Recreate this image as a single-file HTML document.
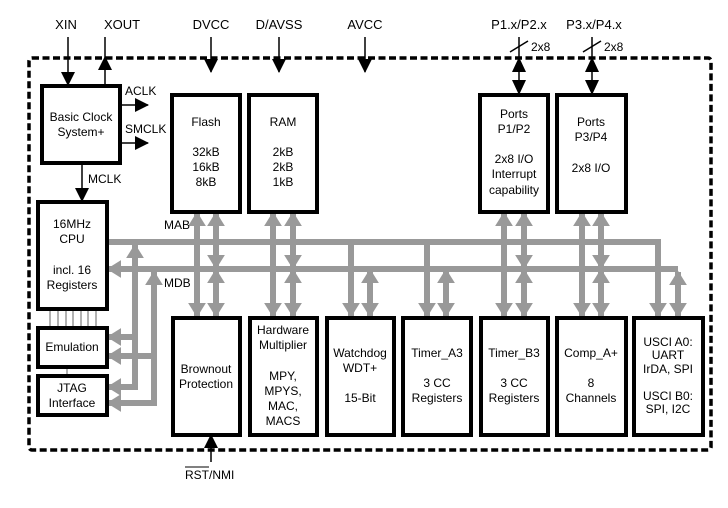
<!DOCTYPE html>
<html><head><meta charset="utf-8"><style>
html,body{margin:0;padding:0;background:#fff;}
svg{display:block;}
text{font-family:"Liberation Sans",Arial,sans-serif;fill:#000;}
</style></head><body>
<svg width="728" height="508" viewBox="0 0 728 508" xmlns="http://www.w3.org/2000/svg">
<defs>
<marker id="g" markerWidth="3" markerHeight="3" refX="2.2" refY="1.5" orient="auto" markerUnits="strokeWidth">
<path d="M0,0 L2.4,1.5 L0,3 z" fill="#999"/></marker>
<marker id="b" markerWidth="14" markerHeight="14" refX="13" refY="7" orient="auto" markerUnits="userSpaceOnUse">
<path d="M0,0 L14,7 L0,14 z" fill="#000"/></marker>
</defs>

<rect x="29" y="58" width="682" height="392" rx="3" fill="none" stroke="#000" stroke-width="3.5" stroke-dasharray="7,3.5"/>

<g stroke="#999" stroke-width="6" fill="none">
<polyline points="107,242 658,242 658,316" marker-end="url(#g)"/>
<line x1="678" y1="269" x2="108" y2="269" marker-end="url(#g)"/>
<line x1="135" y1="387" x2="135" y2="245" marker-end="url(#g)"/>
<line x1="154" y1="403" x2="154" y2="272" marker-end="url(#g)"/>
<line x1="135" y1="337" x2="108" y2="337" marker-end="url(#g)"/>
<line x1="135" y1="387" x2="108" y2="387" marker-end="url(#g)"/>
<line x1="154" y1="356" x2="108" y2="356" marker-end="url(#g)"/>
<line x1="154" y1="403" x2="108" y2="403" marker-end="url(#g)"/>
<line x1="132" y1="387" x2="138" y2="387"/>
<line x1="151" y1="403" x2="157" y2="403"/>
<line x1="197" y1="242" x2="197" y2="213" marker-end="url(#g)"/>
<line x1="273" y1="242" x2="273" y2="213" marker-end="url(#g)"/>
<line x1="504" y1="242" x2="504" y2="213" marker-end="url(#g)"/>
<line x1="582" y1="242" x2="582" y2="213" marker-end="url(#g)"/>
<line x1="216" y1="240" x2="216" y2="213" marker-end="url(#g)"/>
<line x1="216" y1="240" x2="216" y2="268" marker-end="url(#g)"/>
<line x1="293" y1="240" x2="293" y2="213" marker-end="url(#g)"/>
<line x1="293" y1="240" x2="293" y2="268" marker-end="url(#g)"/>
<line x1="524" y1="240" x2="524" y2="213" marker-end="url(#g)"/>
<line x1="524" y1="240" x2="524" y2="268" marker-end="url(#g)"/>
<line x1="601" y1="240" x2="601" y2="213" marker-end="url(#g)"/>
<line x1="601" y1="240" x2="601" y2="268" marker-end="url(#g)"/>
<line x1="197" y1="242" x2="197" y2="316" marker-end="url(#g)"/>
<line x1="273" y1="242" x2="273" y2="316" marker-end="url(#g)"/>
<line x1="351" y1="242" x2="351" y2="316" marker-end="url(#g)"/>
<line x1="427" y1="242" x2="427" y2="316" marker-end="url(#g)"/>
<line x1="504" y1="242" x2="504" y2="316" marker-end="url(#g)"/>
<line x1="582" y1="242" x2="582" y2="316" marker-end="url(#g)"/>
<line x1="216" y1="295" x2="216" y2="270" marker-end="url(#g)"/><line x1="216" y1="295" x2="216" y2="316" marker-end="url(#g)"/>
<line x1="293" y1="295" x2="293" y2="270" marker-end="url(#g)"/><line x1="293" y1="295" x2="293" y2="316" marker-end="url(#g)"/>
<line x1="370" y1="295" x2="370" y2="270" marker-end="url(#g)"/><line x1="370" y1="295" x2="370" y2="316" marker-end="url(#g)"/>
<line x1="446" y1="295" x2="446" y2="270" marker-end="url(#g)"/><line x1="446" y1="295" x2="446" y2="316" marker-end="url(#g)"/>
<line x1="524" y1="295" x2="524" y2="270" marker-end="url(#g)"/><line x1="524" y1="295" x2="524" y2="316" marker-end="url(#g)"/>
<line x1="601" y1="295" x2="601" y2="270" marker-end="url(#g)"/><line x1="601" y1="295" x2="601" y2="316" marker-end="url(#g)"/>
<line x1="678" y1="295" x2="678" y2="272" marker-end="url(#g)"/><line x1="678" y1="295" x2="678" y2="316" marker-end="url(#g)"/>
</g>
<g stroke="#999" stroke-width="1.5">
<line x1="50" y1="309" x2="50" y2="327"/><line x1="58" y1="309" x2="58" y2="327"/><line x1="66" y1="309" x2="66" y2="327"/>
<line x1="73" y1="309" x2="73" y2="327"/><line x1="81" y1="309" x2="81" y2="327"/><line x1="88" y1="309" x2="88" y2="327"/>
<line x1="96" y1="309" x2="96" y2="327"/><line x1="67" y1="367" x2="67" y2="375"/>
</g>

<g fill="#fff" stroke="#000" stroke-width="4">
<rect x="42" y="86" width="78" height="77"/>
<rect x="172" y="95" width="68" height="117"/>
<rect x="249" y="95" width="68" height="117"/>
<rect x="480" y="95" width="68" height="117"/>
<rect x="557" y="95" width="69" height="117"/>
<rect x="38" y="202" width="69" height="107"/>
<rect x="38" y="328" width="69" height="39"/>
<rect x="38" y="376" width="69" height="39"/>
<rect x="173" y="318" width="67" height="117"/>
<rect x="250" y="318" width="67" height="117"/>
<rect x="327" y="318" width="67" height="117"/>
<rect x="403" y="318" width="68" height="117"/>
<rect x="481" y="318" width="67" height="117"/>
<rect x="557" y="318" width="69" height="117"/>
<rect x="634" y="318" width="69" height="117"/>
</g>

<g stroke="#000" stroke-width="1.5" fill="none">
<line x1="68" y1="37" x2="68" y2="85" marker-end="url(#b)"/>
<line x1="105" y1="85" x2="105" y2="57" marker-end="url(#b)"/>
<line x1="105" y1="57" x2="105" y2="37"/>
<line x1="120" y1="105" x2="148" y2="105" marker-end="url(#b)"/>
<line x1="120" y1="143" x2="148" y2="143" marker-end="url(#b)"/>
<line x1="82" y1="163" x2="82" y2="201" marker-end="url(#b)"/>
<line x1="211" y1="37" x2="211" y2="72" marker-end="url(#b)"/>
<line x1="279" y1="37" x2="279" y2="72" marker-end="url(#b)"/>
<line x1="365" y1="37" x2="365" y2="72" marker-end="url(#b)"/>
<line x1="519" y1="37" x2="519" y2="95"/>
<line x1="592" y1="37" x2="592" y2="95"/>
<line x1="510" y1="52" x2="528" y2="41"/>
<line x1="583" y1="52" x2="601" y2="41"/>
<line x1="211" y1="462" x2="211" y2="435" marker-end="url(#b)"/>
</g>
<g fill="#000">
<path d="M512,72 L519,57 L526,72z M512,80 L519,95 L526,80z"/>
<path d="M585,72 L592,57 L599,72z M585,80 L592,95 L599,80z"/>
</g>

<g font-size="13" text-anchor="middle">
<text x="66" y="29">XIN</text>
<text x="122" y="29">XOUT</text>
<text x="211" y="29">DVCC</text>
<text x="279" y="29">D/AVSS</text>
<text x="365" y="29">AVCC</text>
<text x="519" y="29">P1.x/P2.x</text>
<text x="594" y="29">P3.x/P4.x</text>
</g>
<g font-size="12">
<text x="531" y="51">2x8</text>
<text x="604" y="51">2x8</text>
<text x="125" y="95">ACLK</text>
<text x="125" y="133">SMCLK</text>
<text x="88" y="183">MCLK</text>
<text x="164" y="229">MAB</text>
<text x="164" y="287">MDB</text>
<text x="185" y="479">RST/NMI</text>
</g>
<line x1="185" y1="467" x2="209" y2="467" stroke="#000" stroke-width="1"/>
<g font-size="12" text-anchor="middle">
<text x="81" y="121">Basic Clock</text><text x="81" y="136">System+</text>
<text x="206" y="126">Flash</text>
<text x="206" y="156">32kB</text><text x="206" y="171">16kB</text><text x="206" y="186">8kB</text>
<text x="283" y="126">RAM</text>
<text x="283" y="156">2kB</text><text x="283" y="171">2kB</text><text x="283" y="186">1kB</text>
<text x="514" y="118">Ports</text><text x="514" y="133">P1/P2</text>
<text x="514" y="163">2x8 I/O</text><text x="514" y="178">Interrupt</text><text x="514" y="194">capability</text>
<text x="591" y="126">Ports</text><text x="591" y="141">P3/P4</text>
<text x="591" y="172">2x8 I/O</text>
<text x="72" y="228">16MHz</text><text x="72" y="243">CPU</text>
<text x="72" y="274">incl. 16</text><text x="72" y="289">Registers</text>
<text x="72" y="351">Emulation</text>
<text x="72" y="392">JTAG</text><text x="72" y="407">Interface</text>
<text x="206" y="373">Brownout</text><text x="206" y="388">Protection</text>
<text x="283" y="334">Hardware</text><text x="283" y="349">Multiplier</text>
<text x="283" y="380">MPY,</text><text x="283" y="395">MPYS,</text><text x="283" y="410">MAC,</text><text x="283" y="425">MACS</text>
<text x="360" y="357">Watchdog</text><text x="360" y="372">WDT+</text>
<text x="360" y="402">15-Bit</text>
<text x="437" y="357">Timer_A3</text>
<text x="437" y="387">3 CC</text><text x="437" y="402">Registers</text>
<text x="514" y="357">Timer_B3</text>
<text x="514" y="387">3 CC</text><text x="514" y="402">Registers</text>
<text x="591" y="357">Comp_A+</text>
<text x="591" y="387">8</text><text x="591" y="402">Channels</text>
<text x="668" y="346">USCI A0:</text><text x="668" y="359">UART</text><text x="668" y="373">IrDA, SPI</text>
<text x="668" y="400">USCI B0:</text><text x="668" y="413">SPI, I2C</text>
</g>
</svg>
</body></html>
